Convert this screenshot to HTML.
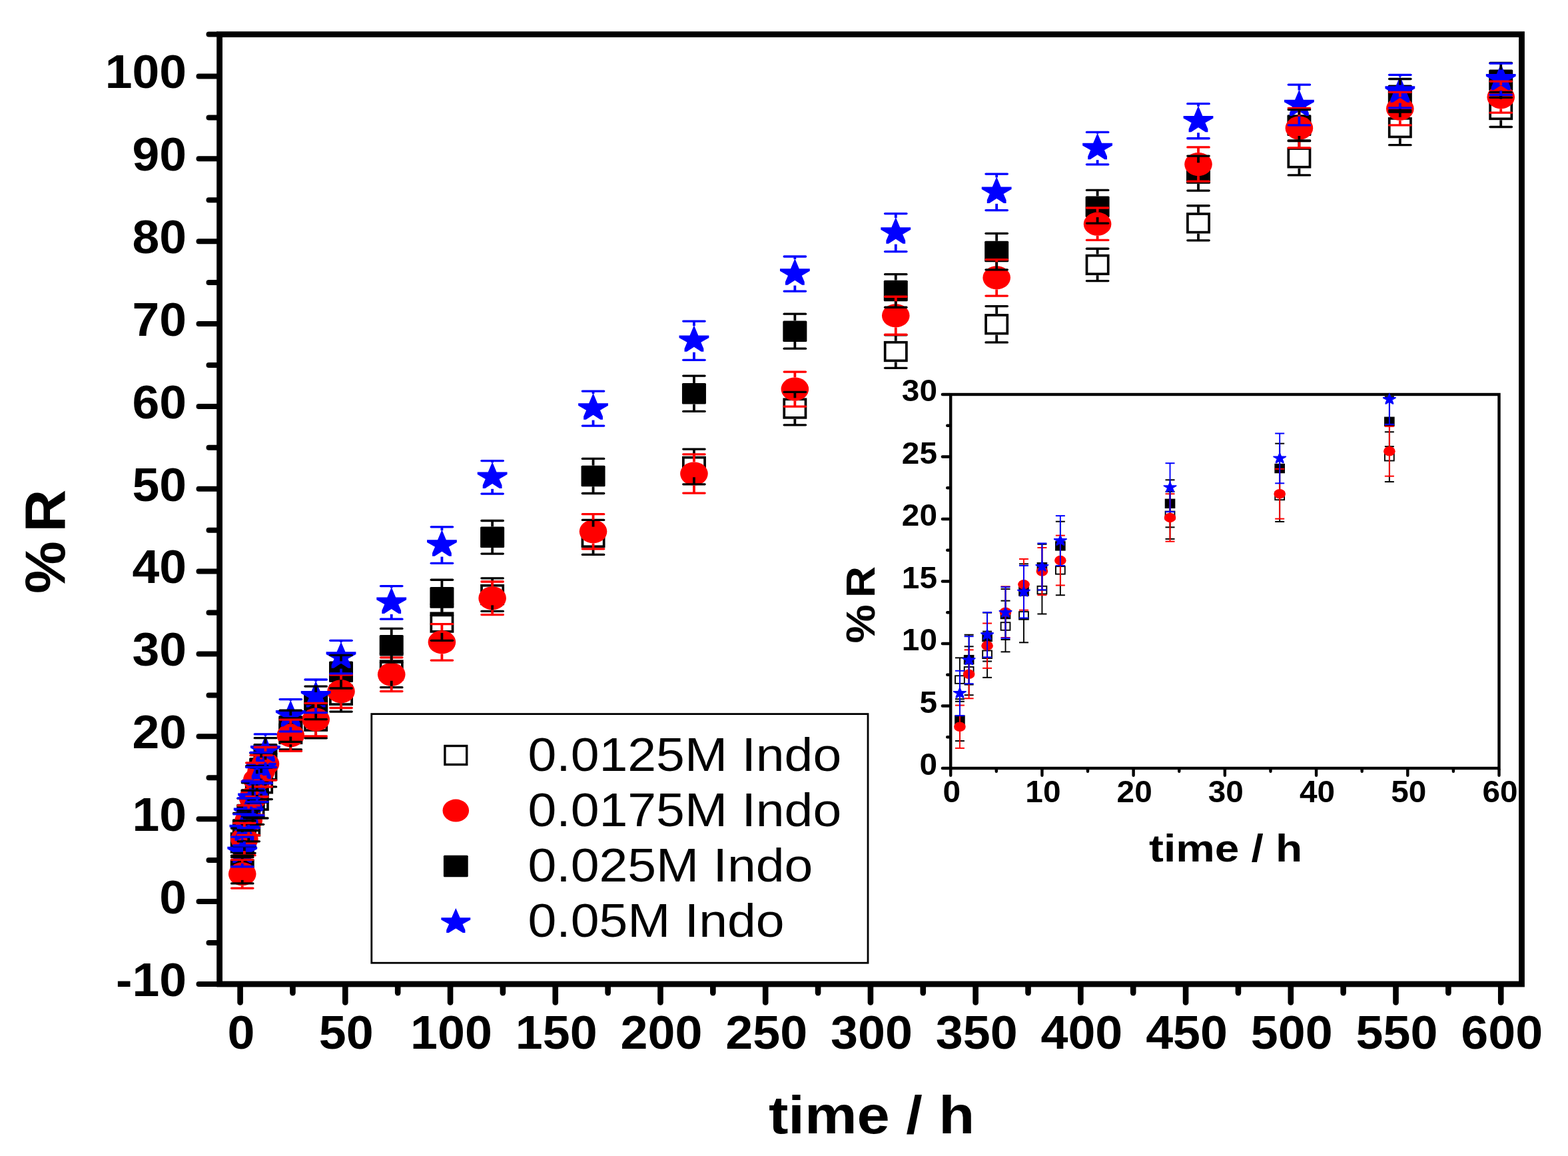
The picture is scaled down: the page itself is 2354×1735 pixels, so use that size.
<!DOCTYPE html><html><head><meta charset="utf-8"><title>%R vs time</title>
<style>html,body{margin:0;padding:0;background:#fff;overflow:hidden}svg{display:block}text{font-family:"Liberation Sans",Arial,sans-serif}</style></head><body>
<svg width="2354" height="1735" viewBox="0 0 2354 1735">
<rect width="2354" height="1735" fill="#fff"/>
<g stroke="#000" stroke-linecap="round" fill="none">
<line x1="298.5" y1="1477" x2="325.6" y2="1477" stroke-width="8"/>
<line x1="313.5" y1="1414.98" x2="325.6" y2="1414.98" stroke-width="8"/>
<line x1="298.5" y1="1353.05" x2="325.6" y2="1353.05" stroke-width="8"/>
<line x1="313.5" y1="1291.12" x2="325.6" y2="1291.12" stroke-width="8"/>
<line x1="298.5" y1="1229.19" x2="325.6" y2="1229.19" stroke-width="8"/>
<line x1="313.5" y1="1167.26" x2="325.6" y2="1167.26" stroke-width="8"/>
<line x1="298.5" y1="1105.33" x2="325.6" y2="1105.33" stroke-width="8"/>
<line x1="313.5" y1="1043.4" x2="325.6" y2="1043.4" stroke-width="8"/>
<line x1="298.5" y1="981.47" x2="325.6" y2="981.47" stroke-width="8"/>
<line x1="313.5" y1="919.54" x2="325.6" y2="919.54" stroke-width="8"/>
<line x1="298.5" y1="857.61" x2="325.6" y2="857.61" stroke-width="8"/>
<line x1="313.5" y1="795.68" x2="325.6" y2="795.68" stroke-width="8"/>
<line x1="298.5" y1="733.75" x2="325.6" y2="733.75" stroke-width="8"/>
<line x1="313.5" y1="671.82" x2="325.6" y2="671.82" stroke-width="8"/>
<line x1="298.5" y1="609.89" x2="325.6" y2="609.89" stroke-width="8"/>
<line x1="313.5" y1="547.96" x2="325.6" y2="547.96" stroke-width="8"/>
<line x1="298.5" y1="486.03" x2="325.6" y2="486.03" stroke-width="8"/>
<line x1="313.5" y1="424.1" x2="325.6" y2="424.1" stroke-width="8"/>
<line x1="298.5" y1="362.17" x2="325.6" y2="362.17" stroke-width="8"/>
<line x1="313.5" y1="300.24" x2="325.6" y2="300.24" stroke-width="8"/>
<line x1="298.5" y1="238.31" x2="325.6" y2="238.31" stroke-width="8"/>
<line x1="313.5" y1="176.38" x2="325.6" y2="176.38" stroke-width="8"/>
<line x1="298.5" y1="114.45" x2="325.6" y2="114.45" stroke-width="8"/>
<line x1="313.5" y1="51.6" x2="325.6" y2="51.6" stroke-width="8"/>
<line x1="360.6" y1="1481.3" x2="360.6" y2="1504.4" stroke-width="8.6"/>
<line x1="439.46" y1="1481.3" x2="439.46" y2="1490.1" stroke-width="8.6"/>
<line x1="518.32" y1="1481.3" x2="518.32" y2="1504.4" stroke-width="8.6"/>
<line x1="597.18" y1="1481.3" x2="597.18" y2="1490.1" stroke-width="8.6"/>
<line x1="676.04" y1="1481.3" x2="676.04" y2="1504.4" stroke-width="8.6"/>
<line x1="754.9" y1="1481.3" x2="754.9" y2="1490.1" stroke-width="8.6"/>
<line x1="833.76" y1="1481.3" x2="833.76" y2="1504.4" stroke-width="8.6"/>
<line x1="912.62" y1="1481.3" x2="912.62" y2="1490.1" stroke-width="8.6"/>
<line x1="991.48" y1="1481.3" x2="991.48" y2="1504.4" stroke-width="8.6"/>
<line x1="1070.34" y1="1481.3" x2="1070.34" y2="1490.1" stroke-width="8.6"/>
<line x1="1149.2" y1="1481.3" x2="1149.2" y2="1504.4" stroke-width="8.6"/>
<line x1="1228.06" y1="1481.3" x2="1228.06" y2="1490.1" stroke-width="8.6"/>
<line x1="1306.92" y1="1481.3" x2="1306.92" y2="1504.4" stroke-width="8.6"/>
<line x1="1385.78" y1="1481.3" x2="1385.78" y2="1490.1" stroke-width="8.6"/>
<line x1="1464.64" y1="1481.3" x2="1464.64" y2="1504.4" stroke-width="8.6"/>
<line x1="1543.5" y1="1481.3" x2="1543.5" y2="1490.1" stroke-width="8.6"/>
<line x1="1622.36" y1="1481.3" x2="1622.36" y2="1504.4" stroke-width="8.6"/>
<line x1="1701.22" y1="1481.3" x2="1701.22" y2="1490.1" stroke-width="8.6"/>
<line x1="1780.08" y1="1481.3" x2="1780.08" y2="1504.4" stroke-width="8.6"/>
<line x1="1858.94" y1="1481.3" x2="1858.94" y2="1490.1" stroke-width="8.6"/>
<line x1="1937.8" y1="1481.3" x2="1937.8" y2="1504.4" stroke-width="8.6"/>
<line x1="2016.66" y1="1481.3" x2="2016.66" y2="1490.1" stroke-width="8.6"/>
<line x1="2095.52" y1="1481.3" x2="2095.52" y2="1504.4" stroke-width="8.6"/>
<line x1="2174.38" y1="1481.3" x2="2174.38" y2="1490.1" stroke-width="8.6"/>
<line x1="2253.24" y1="1481.3" x2="2253.24" y2="1504.4" stroke-width="8.6"/>
</g>
<rect x="329.6" y="51.6" width="1954.9" height="1425.4" fill="none" stroke="#000" stroke-width="8.8"/>
<g font-weight="bold" font-size="71.2" text-anchor="end" fill="#000">
<text transform="translate(280.1,1495.08) scale(1.03,1)">-10</text>
<text transform="translate(280.1,1371.15) scale(1.03,1)">0</text>
<text transform="translate(280.1,1247.22) scale(1.03,1)">10</text>
<text transform="translate(280.1,1123.29) scale(1.03,1)">20</text>
<text transform="translate(280.1,999.36) scale(1.03,1)">30</text>
<text transform="translate(280.1,875.43) scale(1.03,1)">40</text>
<text transform="translate(280.1,751.5) scale(1.03,1)">50</text>
<text transform="translate(280.1,627.57) scale(1.03,1)">60</text>
<text transform="translate(280.1,503.64) scale(1.03,1)">70</text>
<text transform="translate(280.1,379.71) scale(1.03,1)">80</text>
<text transform="translate(280.1,255.78) scale(1.03,1)">90</text>
<text transform="translate(280.1,131.85) scale(1.03,1)">100</text>
</g>
<g font-weight="bold" font-size="71.2" text-anchor="middle" fill="#000">
<text transform="translate(362.1,1573.5) scale(1.035,1)">0</text>
<text transform="translate(519.82,1573.5) scale(1.035,1)">50</text>
<text transform="translate(677.54,1573.5) scale(1.035,1)">100</text>
<text transform="translate(835.26,1573.5) scale(1.035,1)">150</text>
<text transform="translate(992.98,1573.5) scale(1.035,1)">200</text>
<text transform="translate(1150.7,1573.5) scale(1.035,1)">250</text>
<text transform="translate(1308.42,1573.5) scale(1.035,1)">300</text>
<text transform="translate(1466.14,1573.5) scale(1.035,1)">350</text>
<text transform="translate(1623.86,1573.5) scale(1.035,1)">400</text>
<text transform="translate(1781.58,1573.5) scale(1.035,1)">450</text>
<text transform="translate(1939.3,1573.5) scale(1.035,1)">500</text>
<text transform="translate(2097.02,1573.5) scale(1.035,1)">550</text>
<text transform="translate(2254.74,1573.5) scale(1.035,1)">600</text>
</g>
<text transform="translate(1153.9,1700.9) scale(1.101,1)" font-weight="bold" font-size="80.3">time / h</text>
<text transform="translate(97.1,891.1) rotate(-90) scale(1.05,1)" font-weight="bold" font-size="84.5">%<tspan dx="12.85">R</tspan></text>
<rect x="347.65" y="1251.12" width="32.2" height="27.6" fill="none" stroke="#000" stroke-width="3.7"/>
<rect x="350.81" y="1242.32" width="32.2" height="27.6" fill="none" stroke="#000" stroke-width="3.7"/>
<rect x="357.12" y="1226.08" width="32.2" height="27.6" fill="none" stroke="#000" stroke-width="3.7"/>
<rect x="363.43" y="1198.07" width="32.2" height="27.6" fill="none" stroke="#000" stroke-width="3.7"/>
<rect x="369.74" y="1187.41" width="32.2" height="27.6" fill="none" stroke="#000" stroke-width="3.7"/>
<rect x="376.04" y="1162" width="32.2" height="27.6" fill="none" stroke="#000" stroke-width="3.7"/>
<rect x="382.35" y="1142.29" width="32.2" height="27.6" fill="none" stroke="#000" stroke-width="3.7"/>
<rect x="420.21" y="1087.63" width="32.2" height="27.6" fill="none" stroke="#000" stroke-width="3.7"/>
<rect x="458.06" y="1068.42" width="32.2" height="27.6" fill="none" stroke="#000" stroke-width="3.7"/>
<rect x="495.91" y="1029.5" width="32.2" height="27.6" fill="none" stroke="#000" stroke-width="3.7"/>
<rect x="571.62" y="992.19" width="32.2" height="27.6" fill="none" stroke="#000" stroke-width="3.7"/>
<rect x="647.32" y="920.3" width="32.2" height="27.6" fill="none" stroke="#000" stroke-width="3.7"/>
<rect x="723.03" y="878.78" width="32.2" height="27.6" fill="none" stroke="#000" stroke-width="3.7"/>
<rect x="874.44" y="792.63" width="32.2" height="27.6" fill="none" stroke="#000" stroke-width="3.7"/>
<rect x="1025.85" y="686.65" width="32.2" height="27.6" fill="none" stroke="#000" stroke-width="3.7"/>
<rect x="1177.26" y="599.27" width="32.2" height="27.6" fill="none" stroke="#000" stroke-width="3.7"/>
<rect x="1328.67" y="513.74" width="32.2" height="27.6" fill="none" stroke="#000" stroke-width="3.7"/>
<rect x="1480.08" y="472.96" width="32.2" height="27.6" fill="none" stroke="#000" stroke-width="3.7"/>
<rect x="1631.5" y="383.6" width="32.2" height="27.6" fill="none" stroke="#000" stroke-width="3.7"/>
<rect x="1782.91" y="321" width="32.2" height="27.6" fill="none" stroke="#000" stroke-width="3.7"/>
<rect x="1934.32" y="223.08" width="32.2" height="27.6" fill="none" stroke="#000" stroke-width="3.7"/>
<rect x="2085.73" y="177.84" width="32.2" height="27.6" fill="none" stroke="#000" stroke-width="3.7"/>
<rect x="2237.14" y="150.69" width="32.2" height="27.6" fill="none" stroke="#000" stroke-width="3.7"/>
<rect x="345.75" y="1289.28" width="36" height="31.6" rx="1.5" fill="#000"/>
<rect x="348.91" y="1229.29" width="36" height="31.6" rx="1.5" fill="#000"/>
<rect x="355.22" y="1206.73" width="36" height="31.6" rx="1.5" fill="#000"/>
<rect x="361.53" y="1184.17" width="36" height="31.6" rx="1.5" fill="#000"/>
<rect x="367.84" y="1161.24" width="36" height="31.6" rx="1.5" fill="#000"/>
<rect x="374.14" y="1137.19" width="36" height="31.6" rx="1.5" fill="#000"/>
<rect x="380.45" y="1116.12" width="36" height="31.6" rx="1.5" fill="#000"/>
<rect x="418.31" y="1073.98" width="36" height="31.6" rx="1.5" fill="#000"/>
<rect x="456.16" y="1039.03" width="36" height="31.6" rx="1.5" fill="#000"/>
<rect x="494.01" y="992.42" width="36" height="31.6" rx="1.5" fill="#000"/>
<rect x="569.72" y="953" width="36" height="31.6" rx="1.5" fill="#000"/>
<rect x="645.42" y="881.11" width="36" height="31.6" rx="1.5" fill="#000"/>
<rect x="721.13" y="790.51" width="36" height="31.6" rx="1.5" fill="#000"/>
<rect x="872.54" y="698.66" width="36" height="31.6" rx="1.5" fill="#000"/>
<rect x="1023.95" y="574.96" width="36" height="31.6" rx="1.5" fill="#000"/>
<rect x="1175.36" y="481.38" width="36" height="31.6" rx="1.5" fill="#000"/>
<rect x="1326.77" y="420.64" width="36" height="31.6" rx="1.5" fill="#000"/>
<rect x="1478.18" y="361.76" width="36" height="31.6" rx="1.5" fill="#000"/>
<rect x="1629.6" y="294.46" width="36" height="31.6" rx="1.5" fill="#000"/>
<rect x="1781.01" y="244.26" width="36" height="31.6" rx="1.5" fill="#000"/>
<rect x="1932.42" y="172.37" width="36" height="31.6" rx="1.5" fill="#000"/>
<rect x="2083.83" y="127.5" width="36" height="31.6" rx="1.5" fill="#000"/>
<rect x="2235.24" y="104.57" width="36" height="31.6" rx="1.5" fill="#000"/>
<ellipse cx="363.75" cy="1311.77" rx="20.8" ry="17.6" fill="#f00"/>
<ellipse cx="366.91" cy="1259.47" rx="20.8" ry="17.6" fill="#f00"/>
<ellipse cx="373.22" cy="1231.21" rx="20.8" ry="17.6" fill="#f00"/>
<ellipse cx="379.53" cy="1197.74" rx="20.8" ry="17.6" fill="#f00"/>
<ellipse cx="385.84" cy="1170.35" rx="20.8" ry="17.6" fill="#f00"/>
<ellipse cx="392.14" cy="1157.21" rx="20.8" ry="17.6" fill="#f00"/>
<ellipse cx="398.45" cy="1146.3" rx="20.8" ry="17.6" fill="#f00"/>
<ellipse cx="436.31" cy="1103.79" rx="20.8" ry="17.6" fill="#f00"/>
<ellipse cx="474.16" cy="1080.11" rx="20.8" ry="17.6" fill="#f00"/>
<ellipse cx="512.01" cy="1037.72" rx="20.8" ry="17.6" fill="#f00"/>
<ellipse cx="587.72" cy="1012.19" rx="20.8" ry="17.6" fill="#f00"/>
<ellipse cx="663.42" cy="963.85" rx="20.8" ry="17.6" fill="#f00"/>
<ellipse cx="739.13" cy="897.78" rx="20.8" ry="17.6" fill="#f00"/>
<ellipse cx="890.54" cy="797.75" rx="20.8" ry="17.6" fill="#f00"/>
<ellipse cx="1041.95" cy="710.99" rx="20.8" ry="17.6" fill="#f00"/>
<ellipse cx="1193.36" cy="584.06" rx="20.8" ry="17.6" fill="#f00"/>
<ellipse cx="1344.77" cy="473.75" rx="20.8" ry="17.6" fill="#f00"/>
<ellipse cx="1496.18" cy="416.86" rx="20.8" ry="17.6" fill="#f00"/>
<ellipse cx="1647.6" cy="336.16" rx="20.8" ry="17.6" fill="#f00"/>
<ellipse cx="1799.01" cy="246.55" rx="20.8" ry="17.6" fill="#f00"/>
<ellipse cx="1950.42" cy="192.13" rx="20.8" ry="17.6" fill="#f00"/>
<ellipse cx="2101.83" cy="163.13" rx="20.8" ry="17.6" fill="#f00"/>
<ellipse cx="2253.24" cy="145.65" rx="20.8" ry="17.6" fill="#f00"/>
<polygon points="363.75,1255.43 370.15,1270.63 386.15,1270.63 386.15,1274.23 374.15,1281.03 378.15,1290.43 378.15,1295.03 374.55,1295.03 363.75,1288.03 352.95,1295.03 349.35,1295.03 349.35,1290.43 353.35,1281.03 341.35,1274.23 341.35,1270.63 357.35,1270.63" fill="#0000ff"/>
<polygon points="366.91,1222.46 373.31,1237.66 389.31,1237.66 389.31,1241.26 377.31,1248.06 381.31,1257.46 381.31,1262.06 377.71,1262.06 366.91,1255.06 356.11,1262.06 352.51,1262.06 352.51,1257.46 356.51,1248.06 344.51,1241.26 344.51,1237.66 360.51,1237.66" fill="#0000ff"/>
<polygon points="373.22,1197.3 379.62,1212.5 395.62,1212.5 395.62,1216.1 383.62,1222.9 387.62,1232.3 387.62,1236.9 384.02,1236.9 373.22,1229.9 362.42,1236.9 358.82,1236.9 358.82,1232.3 362.82,1222.9 350.82,1216.1 350.82,1212.5 366.82,1212.5" fill="#0000ff"/>
<polygon points="379.53,1175.24 385.93,1190.44 401.93,1190.44 401.93,1194.04 389.93,1200.84 393.93,1210.24 393.93,1214.84 390.33,1214.84 379.53,1207.84 368.73,1214.84 365.13,1214.84 365.13,1210.24 369.13,1200.84 357.13,1194.04 357.13,1190.44 373.13,1190.44" fill="#0000ff"/>
<polygon points="385.84,1154.54 392.24,1169.74 408.24,1169.74 408.24,1173.34 396.24,1180.14 400.24,1189.54 400.24,1194.14 396.64,1194.14 385.84,1187.14 375.04,1194.14 371.44,1194.14 371.44,1189.54 375.44,1180.14 363.44,1173.34 363.44,1169.74 379.44,1169.74" fill="#0000ff"/>
<polygon points="392.14,1129.5 398.54,1144.7 414.54,1144.7 414.54,1148.3 402.54,1155.1 406.54,1164.5 406.54,1169.1 402.94,1169.1 392.14,1162.1 381.34,1169.1 377.74,1169.1 377.74,1164.5 381.74,1155.1 369.74,1148.3 369.74,1144.7 385.74,1144.7" fill="#0000ff"/>
<polygon points="398.45,1103.72 404.85,1118.92 420.85,1118.92 420.85,1122.52 408.85,1129.32 412.85,1138.72 412.85,1143.32 409.25,1143.32 398.45,1136.32 387.65,1143.32 384.05,1143.32 384.05,1138.72 388.05,1129.32 376.05,1122.52 376.05,1118.92 392.05,1118.92" fill="#0000ff"/>
<polygon points="436.31,1050.79 442.71,1065.99 458.71,1065.99 458.71,1069.59 446.71,1076.39 450.71,1085.79 450.71,1090.39 447.11,1090.39 436.31,1083.39 425.51,1090.39 421.91,1090.39 421.91,1085.79 425.91,1076.39 413.91,1069.59 413.91,1065.99 429.91,1065.99" fill="#0000ff"/>
<polygon points="474.16,1021.79 480.56,1036.99 496.56,1036.99 496.56,1040.59 484.56,1047.39 488.56,1056.79 488.56,1061.39 484.96,1061.39 474.16,1054.39 463.36,1061.39 459.76,1061.39 459.76,1056.79 463.76,1047.39 451.76,1040.59 451.76,1036.99 467.76,1036.99" fill="#0000ff"/>
<polygon points="512.01,963.16 518.41,978.36 534.41,978.36 534.41,981.96 522.41,988.76 526.41,998.16 526.41,1002.76 522.81,1002.76 512.01,995.76 501.21,1002.76 497.61,1002.76 497.61,998.16 501.61,988.76 489.61,981.96 489.61,978.36 505.61,978.36" fill="#0000ff"/>
<polygon points="587.72,881.35 594.12,896.55 610.12,896.55 610.12,900.15 598.12,906.95 602.12,916.35 602.12,920.95 598.52,920.95 587.72,913.95 576.92,920.95 573.32,920.95 573.32,916.35 577.32,906.95 565.32,900.15 565.32,896.55 581.32,896.55" fill="#0000ff"/>
<polygon points="663.42,795.08 669.82,810.28 685.82,810.28 685.82,813.88 673.82,820.68 677.82,830.08 677.82,834.68 674.22,834.68 663.42,827.68 652.62,834.68 649.02,834.68 649.02,830.08 653.02,820.68 641.02,813.88 641.02,810.28 657.02,810.28" fill="#0000ff"/>
<polygon points="739.13,693.32 745.53,708.52 761.53,708.52 761.53,712.12 749.53,718.92 753.53,728.32 753.53,732.92 749.93,732.92 739.13,725.92 728.33,732.92 724.73,732.92 724.73,728.32 728.73,718.92 716.73,712.12 716.73,708.52 732.73,708.52" fill="#0000ff"/>
<polygon points="890.54,590.07 896.94,605.27 912.94,605.27 912.94,608.87 900.94,615.67 904.94,625.07 904.94,629.67 901.34,629.67 890.54,622.67 879.74,629.67 876.14,629.67 876.14,625.07 880.14,615.67 868.14,608.87 868.14,605.27 884.14,605.27" fill="#0000ff"/>
<polygon points="1041.95,488.18 1048.35,503.38 1064.35,503.38 1064.35,506.98 1052.35,513.78 1056.35,523.18 1056.35,527.78 1052.75,527.78 1041.95,520.78 1031.15,527.78 1027.55,527.78 1027.55,523.18 1031.55,513.78 1019.55,506.98 1019.55,503.38 1035.55,503.38" fill="#0000ff"/>
<polygon points="1193.36,388.03 1199.76,403.23 1215.76,403.23 1215.76,406.83 1203.76,413.63 1207.76,423.03 1207.76,427.63 1204.16,427.63 1193.36,420.63 1182.56,427.63 1178.96,427.63 1178.96,423.03 1182.96,413.63 1170.96,406.83 1170.96,403.23 1186.96,403.23" fill="#0000ff"/>
<polygon points="1344.77,326.05 1351.17,341.25 1367.17,341.25 1367.17,344.85 1355.17,351.65 1359.17,361.05 1359.17,365.65 1355.57,365.65 1344.77,358.65 1333.97,365.65 1330.37,365.65 1330.37,361.05 1334.37,351.65 1322.37,344.85 1322.37,341.25 1338.37,341.25" fill="#0000ff"/>
<polygon points="1496.18,265.32 1502.58,280.52 1518.58,280.52 1518.58,284.12 1506.58,290.92 1510.58,300.32 1510.58,304.92 1506.98,304.92 1496.18,297.92 1485.38,304.92 1481.78,304.92 1481.78,300.32 1485.78,290.92 1473.78,284.12 1473.78,280.52 1489.78,280.52" fill="#0000ff"/>
<polygon points="1647.6,199.63 1654,214.83 1670,214.83 1670,218.43 1658,225.23 1662,234.63 1662,239.23 1658.4,239.23 1647.6,232.23 1636.8,239.23 1633.2,239.23 1633.2,234.63 1637.2,225.23 1625.2,218.43 1625.2,214.83 1641.2,214.83" fill="#0000ff"/>
<polygon points="1799.01,158.72 1805.41,173.92 1821.41,173.92 1821.41,177.52 1809.41,184.32 1813.41,193.72 1813.41,198.32 1809.81,198.32 1799.01,191.32 1788.21,198.32 1784.61,198.32 1784.61,193.72 1788.61,184.32 1776.61,177.52 1776.61,173.92 1792.61,173.92" fill="#0000ff"/>
<polygon points="1950.42,134.43 1956.82,149.63 1972.82,149.63 1972.82,153.23 1960.82,160.03 1964.82,169.43 1964.82,174.03 1961.22,174.03 1950.42,167.03 1939.62,174.03 1936.02,174.03 1936.02,169.43 1940.02,160.03 1928.02,153.23 1928.02,149.63 1944.02,149.63" fill="#0000ff"/>
<polygon points="2101.83,114.1 2108.23,129.3 2124.23,129.3 2124.23,132.9 2112.23,139.7 2116.23,149.1 2116.23,153.7 2112.63,153.7 2101.83,146.7 2091.03,153.7 2087.43,153.7 2087.43,149.1 2091.43,139.7 2079.43,132.9 2079.43,129.3 2095.43,129.3" fill="#0000ff"/>
<polygon points="2253.24,95.76 2259.64,110.96 2275.64,110.96 2275.64,114.56 2263.64,121.36 2267.64,130.76 2267.64,135.36 2264.04,135.36 2253.24,128.36 2242.44,135.36 2238.84,135.36 2238.84,130.76 2242.84,121.36 2230.84,114.56 2230.84,110.96 2246.84,110.96" fill="#0000ff"/>
<g stroke="#000" stroke-linecap="round">
<line x1="363.75" y1="1249.12" x2="363.75" y2="1243.23" stroke-width="3.8" stroke-linecap="butt"/>
<line x1="363.75" y1="1280.72" x2="363.75" y2="1286.61" stroke-width="3.8" stroke-linecap="butt"/>
<line x1="347.55" y1="1243.23" x2="379.95" y2="1243.23" stroke-width="3.3"/>
<line x1="347.55" y1="1286.61" x2="379.95" y2="1286.61" stroke-width="3.3"/>
<line x1="366.91" y1="1240.32" x2="366.91" y2="1231.95" stroke-width="3.8" stroke-linecap="butt"/>
<line x1="366.91" y1="1271.92" x2="366.91" y2="1280.29" stroke-width="3.8" stroke-linecap="butt"/>
<line x1="350.71" y1="1231.95" x2="383.11" y2="1231.95" stroke-width="3.3"/>
<line x1="350.71" y1="1280.29" x2="383.11" y2="1280.29" stroke-width="3.3"/>
<line x1="373.22" y1="1224.08" x2="373.22" y2="1216.95" stroke-width="3.8" stroke-linecap="butt"/>
<line x1="373.22" y1="1255.68" x2="373.22" y2="1262.81" stroke-width="3.8" stroke-linecap="butt"/>
<line x1="357.02" y1="1216.95" x2="389.42" y2="1216.95" stroke-width="3.3"/>
<line x1="357.02" y1="1262.81" x2="389.42" y2="1262.81" stroke-width="3.3"/>
<line x1="379.53" y1="1196.07" x2="379.53" y2="1186.46" stroke-width="3.8" stroke-linecap="butt"/>
<line x1="379.53" y1="1227.67" x2="379.53" y2="1237.28" stroke-width="3.8" stroke-linecap="butt"/>
<line x1="363.33" y1="1186.46" x2="395.73" y2="1186.46" stroke-width="3.3"/>
<line x1="363.33" y1="1237.28" x2="395.73" y2="1237.28" stroke-width="3.3"/>
<line x1="385.84" y1="1185.41" x2="385.84" y2="1174.44" stroke-width="3.8" stroke-linecap="butt"/>
<line x1="385.84" y1="1217.01" x2="385.84" y2="1227.98" stroke-width="3.8" stroke-linecap="butt"/>
<line x1="369.64" y1="1174.44" x2="402.04" y2="1174.44" stroke-width="3.3"/>
<line x1="369.64" y1="1227.98" x2="402.04" y2="1227.98" stroke-width="3.3"/>
<line x1="392.14" y1="1160" x2="392.14" y2="1152" stroke-width="3.8" stroke-linecap="butt"/>
<line x1="392.14" y1="1191.6" x2="392.14" y2="1199.6" stroke-width="3.8" stroke-linecap="butt"/>
<line x1="375.94" y1="1152" x2="408.34" y2="1152" stroke-width="3.3"/>
<line x1="375.94" y1="1199.6" x2="408.34" y2="1199.6" stroke-width="3.3"/>
<line x1="398.45" y1="1140.29" x2="398.45" y2="1131.3" stroke-width="3.8" stroke-linecap="butt"/>
<line x1="398.45" y1="1171.89" x2="398.45" y2="1180.88" stroke-width="3.8" stroke-linecap="butt"/>
<line x1="382.25" y1="1131.3" x2="414.65" y2="1131.3" stroke-width="3.3"/>
<line x1="382.25" y1="1180.88" x2="414.65" y2="1180.88" stroke-width="3.3"/>
<line x1="436.31" y1="1085.63" x2="436.31" y2="1077.88" stroke-width="3.8" stroke-linecap="butt"/>
<line x1="436.31" y1="1117.23" x2="436.31" y2="1124.98" stroke-width="3.8" stroke-linecap="butt"/>
<line x1="420.11" y1="1077.88" x2="452.51" y2="1077.88" stroke-width="3.3"/>
<line x1="420.11" y1="1124.98" x2="452.51" y2="1124.98" stroke-width="3.3"/>
<line x1="474.16" y1="1066.42" x2="474.16" y2="1056.69" stroke-width="3.8" stroke-linecap="butt"/>
<line x1="474.16" y1="1098.02" x2="474.16" y2="1107.75" stroke-width="3.8" stroke-linecap="butt"/>
<line x1="457.96" y1="1056.69" x2="490.36" y2="1056.69" stroke-width="3.3"/>
<line x1="457.96" y1="1107.75" x2="490.36" y2="1107.75" stroke-width="3.3"/>
<line x1="512.01" y1="1027.5" x2="512.01" y2="1018.51" stroke-width="3.8" stroke-linecap="butt"/>
<line x1="512.01" y1="1059.1" x2="512.01" y2="1068.09" stroke-width="3.8" stroke-linecap="butt"/>
<line x1="495.81" y1="1018.51" x2="528.21" y2="1018.51" stroke-width="3.3"/>
<line x1="495.81" y1="1068.09" x2="528.21" y2="1068.09" stroke-width="3.3"/>
<line x1="587.72" y1="990.19" x2="587.72" y2="980.33" stroke-width="3.8" stroke-linecap="butt"/>
<line x1="587.72" y1="1021.79" x2="587.72" y2="1031.65" stroke-width="3.8" stroke-linecap="butt"/>
<line x1="571.52" y1="980.33" x2="603.92" y2="980.33" stroke-width="3.3"/>
<line x1="571.52" y1="1031.65" x2="603.92" y2="1031.65" stroke-width="3.3"/>
<line x1="663.42" y1="918.3" x2="663.42" y2="906.83" stroke-width="3.8" stroke-linecap="butt"/>
<line x1="663.42" y1="949.9" x2="663.42" y2="961.37" stroke-width="3.8" stroke-linecap="butt"/>
<line x1="647.22" y1="906.83" x2="679.62" y2="906.83" stroke-width="3.3"/>
<line x1="647.22" y1="961.37" x2="679.62" y2="961.37" stroke-width="3.3"/>
<line x1="739.13" y1="876.78" x2="739.13" y2="867.79" stroke-width="3.8" stroke-linecap="butt"/>
<line x1="739.13" y1="908.38" x2="739.13" y2="917.37" stroke-width="3.8" stroke-linecap="butt"/>
<line x1="722.93" y1="867.79" x2="755.33" y2="867.79" stroke-width="3.3"/>
<line x1="722.93" y1="917.37" x2="755.33" y2="917.37" stroke-width="3.3"/>
<line x1="890.54" y1="790.63" x2="890.54" y2="780.4" stroke-width="3.8" stroke-linecap="butt"/>
<line x1="890.54" y1="822.23" x2="890.54" y2="832.46" stroke-width="3.8" stroke-linecap="butt"/>
<line x1="874.34" y1="780.4" x2="906.74" y2="780.4" stroke-width="3.3"/>
<line x1="874.34" y1="832.46" x2="906.74" y2="832.46" stroke-width="3.3"/>
<line x1="1041.95" y1="684.65" x2="1041.95" y2="674.05" stroke-width="3.8" stroke-linecap="butt"/>
<line x1="1041.95" y1="716.25" x2="1041.95" y2="726.85" stroke-width="3.8" stroke-linecap="butt"/>
<line x1="1025.75" y1="674.05" x2="1058.15" y2="674.05" stroke-width="3.3"/>
<line x1="1025.75" y1="726.85" x2="1058.15" y2="726.85" stroke-width="3.3"/>
<line x1="1193.36" y1="597.27" x2="1193.36" y2="588.28" stroke-width="3.8" stroke-linecap="butt"/>
<line x1="1193.36" y1="628.87" x2="1193.36" y2="637.86" stroke-width="3.8" stroke-linecap="butt"/>
<line x1="1177.16" y1="588.28" x2="1209.56" y2="588.28" stroke-width="3.3"/>
<line x1="1177.16" y1="637.86" x2="1209.56" y2="637.86" stroke-width="3.3"/>
<line x1="1344.77" y1="511.74" x2="1344.77" y2="502.75" stroke-width="3.8" stroke-linecap="butt"/>
<line x1="1344.77" y1="543.34" x2="1344.77" y2="552.33" stroke-width="3.8" stroke-linecap="butt"/>
<line x1="1328.57" y1="502.75" x2="1360.97" y2="502.75" stroke-width="3.3"/>
<line x1="1328.57" y1="552.33" x2="1360.97" y2="552.33" stroke-width="3.3"/>
<line x1="1496.18" y1="470.96" x2="1496.18" y2="459.62" stroke-width="3.8" stroke-linecap="butt"/>
<line x1="1496.18" y1="502.56" x2="1496.18" y2="513.91" stroke-width="3.8" stroke-linecap="butt"/>
<line x1="1479.98" y1="459.62" x2="1512.38" y2="459.62" stroke-width="3.3"/>
<line x1="1479.98" y1="513.91" x2="1512.38" y2="513.91" stroke-width="3.3"/>
<line x1="1647.6" y1="381.6" x2="1647.6" y2="373.23" stroke-width="3.8" stroke-linecap="butt"/>
<line x1="1647.6" y1="413.2" x2="1647.6" y2="421.57" stroke-width="3.8" stroke-linecap="butt"/>
<line x1="1631.4" y1="373.23" x2="1663.8" y2="373.23" stroke-width="3.3"/>
<line x1="1631.4" y1="421.57" x2="1663.8" y2="421.57" stroke-width="3.3"/>
<line x1="1799.01" y1="319" x2="1799.01" y2="308.77" stroke-width="3.8" stroke-linecap="butt"/>
<line x1="1799.01" y1="350.6" x2="1799.01" y2="360.83" stroke-width="3.8" stroke-linecap="butt"/>
<line x1="1782.81" y1="308.77" x2="1815.21" y2="308.77" stroke-width="3.3"/>
<line x1="1782.81" y1="360.83" x2="1815.21" y2="360.83" stroke-width="3.3"/>
<line x1="1950.42" y1="221.08" x2="1950.42" y2="210.85" stroke-width="3.8" stroke-linecap="butt"/>
<line x1="1950.42" y1="252.68" x2="1950.42" y2="262.91" stroke-width="3.8" stroke-linecap="butt"/>
<line x1="1934.22" y1="210.85" x2="1966.62" y2="210.85" stroke-width="3.3"/>
<line x1="1934.22" y1="262.91" x2="1966.62" y2="262.91" stroke-width="3.3"/>
<line x1="2101.83" y1="175.84" x2="2101.83" y2="165.61" stroke-width="3.8" stroke-linecap="butt"/>
<line x1="2101.83" y1="207.44" x2="2101.83" y2="217.67" stroke-width="3.8" stroke-linecap="butt"/>
<line x1="2085.63" y1="165.61" x2="2118.03" y2="165.61" stroke-width="3.3"/>
<line x1="2085.63" y1="217.67" x2="2118.03" y2="217.67" stroke-width="3.3"/>
<line x1="2253.24" y1="148.69" x2="2253.24" y2="138.46" stroke-width="3.8" stroke-linecap="butt"/>
<line x1="2253.24" y1="180.29" x2="2253.24" y2="190.52" stroke-width="3.8" stroke-linecap="butt"/>
<line x1="2237.04" y1="138.46" x2="2269.44" y2="138.46" stroke-width="3.3"/>
<line x1="2237.04" y1="190.52" x2="2269.44" y2="190.52" stroke-width="3.3"/>
</g>
<g stroke="#f00" stroke-linecap="round">
<line x1="363.75" y1="1294.17" x2="363.75" y2="1290.46" stroke-width="3.8" stroke-linecap="butt"/>
<line x1="363.75" y1="1329.37" x2="363.75" y2="1333.09" stroke-width="3.8" stroke-linecap="butt"/>
<line x1="347.55" y1="1290.46" x2="379.95" y2="1290.46" stroke-width="3.3"/>
<line x1="347.55" y1="1333.09" x2="379.95" y2="1333.09" stroke-width="3.3"/>
<line x1="366.91" y1="1241.87" x2="366.91" y2="1235.3" stroke-width="3.8" stroke-linecap="butt"/>
<line x1="366.91" y1="1277.07" x2="366.91" y2="1283.64" stroke-width="3.8" stroke-linecap="butt"/>
<line x1="350.71" y1="1235.3" x2="383.11" y2="1235.3" stroke-width="3.3"/>
<line x1="350.71" y1="1283.64" x2="383.11" y2="1283.64" stroke-width="3.3"/>
<line x1="373.22" y1="1213.61" x2="373.22" y2="1208.9" stroke-width="3.8" stroke-linecap="butt"/>
<line x1="373.22" y1="1248.81" x2="373.22" y2="1253.52" stroke-width="3.8" stroke-linecap="butt"/>
<line x1="357.02" y1="1208.9" x2="389.42" y2="1208.9" stroke-width="3.3"/>
<line x1="357.02" y1="1253.52" x2="389.42" y2="1253.52" stroke-width="3.3"/>
<line x1="379.53" y1="1180.14" x2="379.53" y2="1172.33" stroke-width="3.8" stroke-linecap="butt"/>
<line x1="379.53" y1="1215.34" x2="379.53" y2="1223.15" stroke-width="3.8" stroke-linecap="butt"/>
<line x1="363.33" y1="1172.33" x2="395.73" y2="1172.33" stroke-width="3.3"/>
<line x1="363.33" y1="1223.15" x2="395.73" y2="1223.15" stroke-width="3.3"/>
<line x1="385.84" y1="1152.75" x2="385.84" y2="1144.94" stroke-width="3.8" stroke-linecap="butt"/>
<line x1="385.84" y1="1187.95" x2="385.84" y2="1195.76" stroke-width="3.8" stroke-linecap="butt"/>
<line x1="369.64" y1="1144.94" x2="402.04" y2="1144.94" stroke-width="3.3"/>
<line x1="369.64" y1="1195.76" x2="402.04" y2="1195.76" stroke-width="3.3"/>
<line x1="392.14" y1="1139.61" x2="392.14" y2="1133.66" stroke-width="3.8" stroke-linecap="butt"/>
<line x1="392.14" y1="1174.81" x2="392.14" y2="1180.76" stroke-width="3.8" stroke-linecap="butt"/>
<line x1="375.94" y1="1133.66" x2="408.34" y2="1133.66" stroke-width="3.3"/>
<line x1="375.94" y1="1180.76" x2="408.34" y2="1180.76" stroke-width="3.3"/>
<line x1="398.45" y1="1128.7" x2="398.45" y2="1121.51" stroke-width="3.8" stroke-linecap="butt"/>
<line x1="398.45" y1="1163.9" x2="398.45" y2="1171.09" stroke-width="3.8" stroke-linecap="butt"/>
<line x1="382.25" y1="1121.51" x2="414.65" y2="1121.51" stroke-width="3.3"/>
<line x1="382.25" y1="1171.09" x2="414.65" y2="1171.09" stroke-width="3.3"/>
<line x1="436.31" y1="1086.19" x2="436.31" y2="1080.11" stroke-width="3.8" stroke-linecap="butt"/>
<line x1="436.31" y1="1121.39" x2="436.31" y2="1127.46" stroke-width="3.8" stroke-linecap="butt"/>
<line x1="420.11" y1="1080.11" x2="452.51" y2="1080.11" stroke-width="3.3"/>
<line x1="420.11" y1="1127.46" x2="452.51" y2="1127.46" stroke-width="3.3"/>
<line x1="474.16" y1="1062.51" x2="474.16" y2="1055.32" stroke-width="3.8" stroke-linecap="butt"/>
<line x1="474.16" y1="1097.71" x2="474.16" y2="1104.9" stroke-width="3.8" stroke-linecap="butt"/>
<line x1="457.96" y1="1055.32" x2="490.36" y2="1055.32" stroke-width="3.3"/>
<line x1="457.96" y1="1104.9" x2="490.36" y2="1104.9" stroke-width="3.3"/>
<line x1="512.01" y1="1020.12" x2="512.01" y2="1012.93" stroke-width="3.8" stroke-linecap="butt"/>
<line x1="512.01" y1="1055.32" x2="512.01" y2="1062.51" stroke-width="3.8" stroke-linecap="butt"/>
<line x1="495.81" y1="1012.93" x2="528.21" y2="1012.93" stroke-width="3.3"/>
<line x1="495.81" y1="1062.51" x2="528.21" y2="1062.51" stroke-width="3.3"/>
<line x1="587.72" y1="994.59" x2="587.72" y2="986.78" stroke-width="3.8" stroke-linecap="butt"/>
<line x1="587.72" y1="1029.79" x2="587.72" y2="1037.6" stroke-width="3.8" stroke-linecap="butt"/>
<line x1="571.52" y1="986.78" x2="603.92" y2="986.78" stroke-width="3.3"/>
<line x1="571.52" y1="1037.6" x2="603.92" y2="1037.6" stroke-width="3.3"/>
<line x1="663.42" y1="946.25" x2="663.42" y2="936.58" stroke-width="3.8" stroke-linecap="butt"/>
<line x1="663.42" y1="981.45" x2="663.42" y2="991.12" stroke-width="3.8" stroke-linecap="butt"/>
<line x1="647.22" y1="936.58" x2="679.62" y2="936.58" stroke-width="3.3"/>
<line x1="647.22" y1="991.12" x2="679.62" y2="991.12" stroke-width="3.3"/>
<line x1="739.13" y1="880.18" x2="739.13" y2="872.99" stroke-width="3.8" stroke-linecap="butt"/>
<line x1="739.13" y1="915.38" x2="739.13" y2="922.57" stroke-width="3.8" stroke-linecap="butt"/>
<line x1="722.93" y1="872.99" x2="755.33" y2="872.99" stroke-width="3.3"/>
<line x1="722.93" y1="922.57" x2="755.33" y2="922.57" stroke-width="3.3"/>
<line x1="890.54" y1="780.15" x2="890.54" y2="771.72" stroke-width="3.8" stroke-linecap="butt"/>
<line x1="890.54" y1="815.35" x2="890.54" y2="823.78" stroke-width="3.8" stroke-linecap="butt"/>
<line x1="874.34" y1="771.72" x2="906.74" y2="771.72" stroke-width="3.3"/>
<line x1="874.34" y1="823.78" x2="906.74" y2="823.78" stroke-width="3.3"/>
<line x1="1041.95" y1="693.39" x2="1041.95" y2="681.86" stroke-width="3.8" stroke-linecap="butt"/>
<line x1="1041.95" y1="728.59" x2="1041.95" y2="740.12" stroke-width="3.8" stroke-linecap="butt"/>
<line x1="1025.75" y1="681.86" x2="1058.15" y2="681.86" stroke-width="3.3"/>
<line x1="1025.75" y1="740.12" x2="1058.15" y2="740.12" stroke-width="3.3"/>
<line x1="1193.36" y1="566.46" x2="1193.36" y2="558.03" stroke-width="3.8" stroke-linecap="butt"/>
<line x1="1193.36" y1="601.66" x2="1193.36" y2="610.09" stroke-width="3.8" stroke-linecap="butt"/>
<line x1="1177.16" y1="558.03" x2="1209.56" y2="558.03" stroke-width="3.3"/>
<line x1="1177.16" y1="610.09" x2="1209.56" y2="610.09" stroke-width="3.3"/>
<line x1="1344.77" y1="456.15" x2="1344.77" y2="445.24" stroke-width="3.8" stroke-linecap="butt"/>
<line x1="1344.77" y1="491.35" x2="1344.77" y2="502.26" stroke-width="3.8" stroke-linecap="butt"/>
<line x1="1328.57" y1="445.24" x2="1360.97" y2="445.24" stroke-width="3.3"/>
<line x1="1328.57" y1="502.26" x2="1360.97" y2="502.26" stroke-width="3.3"/>
<line x1="1496.18" y1="399.26" x2="1496.18" y2="389.59" stroke-width="3.8" stroke-linecap="butt"/>
<line x1="1496.18" y1="434.46" x2="1496.18" y2="444.12" stroke-width="3.8" stroke-linecap="butt"/>
<line x1="1479.98" y1="389.59" x2="1512.38" y2="389.59" stroke-width="3.3"/>
<line x1="1479.98" y1="444.12" x2="1512.38" y2="444.12" stroke-width="3.3"/>
<line x1="1647.6" y1="318.56" x2="1647.6" y2="311.99" stroke-width="3.8" stroke-linecap="butt"/>
<line x1="1647.6" y1="353.76" x2="1647.6" y2="360.33" stroke-width="3.8" stroke-linecap="butt"/>
<line x1="1631.4" y1="311.99" x2="1663.8" y2="311.99" stroke-width="3.3"/>
<line x1="1631.4" y1="360.33" x2="1663.8" y2="360.33" stroke-width="3.3"/>
<line x1="1799.01" y1="228.95" x2="1799.01" y2="220.89" stroke-width="3.8" stroke-linecap="butt"/>
<line x1="1799.01" y1="264.15" x2="1799.01" y2="272.21" stroke-width="3.8" stroke-linecap="butt"/>
<line x1="1782.81" y1="220.89" x2="1815.21" y2="220.89" stroke-width="3.3"/>
<line x1="1782.81" y1="272.21" x2="1815.21" y2="272.21" stroke-width="3.3"/>
<line x1="1950.42" y1="174.53" x2="1950.42" y2="162.39" stroke-width="3.8" stroke-linecap="butt"/>
<line x1="1950.42" y1="209.73" x2="1950.42" y2="221.88" stroke-width="3.8" stroke-linecap="butt"/>
<line x1="1934.22" y1="162.39" x2="1966.62" y2="162.39" stroke-width="3.3"/>
<line x1="1934.22" y1="221.88" x2="1966.62" y2="221.88" stroke-width="3.3"/>
<line x1="2101.83" y1="145.53" x2="2101.83" y2="138.34" stroke-width="3.8" stroke-linecap="butt"/>
<line x1="2101.83" y1="180.73" x2="2101.83" y2="187.92" stroke-width="3.8" stroke-linecap="butt"/>
<line x1="2085.63" y1="138.34" x2="2118.03" y2="138.34" stroke-width="3.3"/>
<line x1="2085.63" y1="187.92" x2="2118.03" y2="187.92" stroke-width="3.3"/>
<line x1="2253.24" y1="128.05" x2="2253.24" y2="122.1" stroke-width="3.8" stroke-linecap="butt"/>
<line x1="2253.24" y1="163.25" x2="2253.24" y2="169.2" stroke-width="3.8" stroke-linecap="butt"/>
<line x1="2237.04" y1="122.1" x2="2269.44" y2="122.1" stroke-width="3.3"/>
<line x1="2237.04" y1="169.2" x2="2269.44" y2="169.2" stroke-width="3.3"/>
</g>
<g stroke="#000" stroke-linecap="round">
<line x1="363.75" y1="1289.28" x2="363.75" y2="1284.26" stroke-width="3.8" stroke-linecap="butt"/>
<line x1="363.75" y1="1320.88" x2="363.75" y2="1325.9" stroke-width="3.8" stroke-linecap="butt"/>
<line x1="347.55" y1="1284.26" x2="379.95" y2="1284.26" stroke-width="3.3"/>
<line x1="347.55" y1="1325.9" x2="379.95" y2="1325.9" stroke-width="3.3"/>
<line x1="366.91" y1="1229.29" x2="366.91" y2="1220.3" stroke-width="3.8" stroke-linecap="butt"/>
<line x1="366.91" y1="1260.89" x2="366.91" y2="1269.88" stroke-width="3.8" stroke-linecap="butt"/>
<line x1="350.71" y1="1220.3" x2="383.11" y2="1220.3" stroke-width="3.3"/>
<line x1="350.71" y1="1269.88" x2="383.11" y2="1269.88" stroke-width="3.3"/>
<line x1="373.22" y1="1206.73" x2="373.22" y2="1198.36" stroke-width="3.8" stroke-linecap="butt"/>
<line x1="373.22" y1="1238.33" x2="373.22" y2="1246.7" stroke-width="3.8" stroke-linecap="butt"/>
<line x1="357.02" y1="1198.36" x2="389.42" y2="1198.36" stroke-width="3.3"/>
<line x1="357.02" y1="1246.7" x2="389.42" y2="1246.7" stroke-width="3.3"/>
<line x1="379.53" y1="1184.17" x2="379.53" y2="1174.81" stroke-width="3.8" stroke-linecap="butt"/>
<line x1="379.53" y1="1215.77" x2="379.53" y2="1225.13" stroke-width="3.8" stroke-linecap="butt"/>
<line x1="363.33" y1="1174.81" x2="395.73" y2="1174.81" stroke-width="3.3"/>
<line x1="363.33" y1="1225.13" x2="395.73" y2="1225.13" stroke-width="3.3"/>
<line x1="385.84" y1="1161.24" x2="385.84" y2="1149.77" stroke-width="3.8" stroke-linecap="butt"/>
<line x1="385.84" y1="1192.84" x2="385.84" y2="1204.31" stroke-width="3.8" stroke-linecap="butt"/>
<line x1="369.64" y1="1149.77" x2="402.04" y2="1149.77" stroke-width="3.3"/>
<line x1="369.64" y1="1204.31" x2="402.04" y2="1204.31" stroke-width="3.3"/>
<line x1="392.14" y1="1137.19" x2="392.14" y2="1130.19" stroke-width="3.8" stroke-linecap="butt"/>
<line x1="392.14" y1="1168.79" x2="392.14" y2="1175.8" stroke-width="3.8" stroke-linecap="butt"/>
<line x1="375.94" y1="1130.19" x2="408.34" y2="1130.19" stroke-width="3.3"/>
<line x1="375.94" y1="1175.8" x2="408.34" y2="1175.8" stroke-width="3.3"/>
<line x1="398.45" y1="1116.12" x2="398.45" y2="1107.63" stroke-width="3.8" stroke-linecap="butt"/>
<line x1="398.45" y1="1147.72" x2="398.45" y2="1151.63" stroke-width="3.8" stroke-linecap="butt"/>
<line x1="382.25" y1="1107.63" x2="414.65" y2="1107.63" stroke-width="3.3"/>
<line x1="382.25" y1="1151.63" x2="414.65" y2="1151.63" stroke-width="3.3"/>
<line x1="436.31" y1="1073.98" x2="436.31" y2="1066.23" stroke-width="3.8" stroke-linecap="butt"/>
<line x1="436.31" y1="1105.58" x2="436.31" y2="1113.33" stroke-width="3.8" stroke-linecap="butt"/>
<line x1="420.11" y1="1066.23" x2="452.51" y2="1066.23" stroke-width="3.3"/>
<line x1="420.11" y1="1113.33" x2="452.51" y2="1113.33" stroke-width="3.3"/>
<line x1="474.16" y1="1039.03" x2="474.16" y2="1030.04" stroke-width="3.8" stroke-linecap="butt"/>
<line x1="474.16" y1="1070.63" x2="474.16" y2="1079.62" stroke-width="3.8" stroke-linecap="butt"/>
<line x1="457.96" y1="1030.04" x2="490.36" y2="1030.04" stroke-width="3.3"/>
<line x1="457.96" y1="1079.62" x2="490.36" y2="1079.62" stroke-width="3.3"/>
<line x1="512.01" y1="992.42" x2="512.01" y2="983.43" stroke-width="3.8" stroke-linecap="butt"/>
<line x1="512.01" y1="1024.02" x2="512.01" y2="1033.01" stroke-width="3.8" stroke-linecap="butt"/>
<line x1="495.81" y1="983.43" x2="528.21" y2="983.43" stroke-width="3.3"/>
<line x1="495.81" y1="1033.01" x2="528.21" y2="1033.01" stroke-width="3.3"/>
<line x1="587.72" y1="953" x2="587.72" y2="943.4" stroke-width="3.8" stroke-linecap="butt"/>
<line x1="587.72" y1="984.6" x2="587.72" y2="994.21" stroke-width="3.8" stroke-linecap="butt"/>
<line x1="571.52" y1="943.4" x2="603.92" y2="943.4" stroke-width="3.3"/>
<line x1="571.52" y1="994.21" x2="603.92" y2="994.21" stroke-width="3.3"/>
<line x1="663.42" y1="881.11" x2="663.42" y2="870.26" stroke-width="3.8" stroke-linecap="butt"/>
<line x1="663.42" y1="912.71" x2="663.42" y2="923.56" stroke-width="3.8" stroke-linecap="butt"/>
<line x1="647.22" y1="870.26" x2="679.62" y2="870.26" stroke-width="3.3"/>
<line x1="647.22" y1="923.56" x2="679.62" y2="923.56" stroke-width="3.3"/>
<line x1="739.13" y1="790.51" x2="739.13" y2="781.52" stroke-width="3.8" stroke-linecap="butt"/>
<line x1="739.13" y1="822.11" x2="739.13" y2="831.1" stroke-width="3.8" stroke-linecap="butt"/>
<line x1="722.93" y1="781.52" x2="755.33" y2="781.52" stroke-width="3.3"/>
<line x1="722.93" y1="831.1" x2="755.33" y2="831.1" stroke-width="3.3"/>
<line x1="890.54" y1="698.66" x2="890.54" y2="688.43" stroke-width="3.8" stroke-linecap="butt"/>
<line x1="890.54" y1="730.26" x2="890.54" y2="740.49" stroke-width="3.8" stroke-linecap="butt"/>
<line x1="874.34" y1="688.43" x2="906.74" y2="688.43" stroke-width="3.3"/>
<line x1="874.34" y1="740.49" x2="906.74" y2="740.49" stroke-width="3.3"/>
<line x1="1041.95" y1="574.96" x2="1041.95" y2="564.11" stroke-width="3.8" stroke-linecap="butt"/>
<line x1="1041.95" y1="606.56" x2="1041.95" y2="617.41" stroke-width="3.8" stroke-linecap="butt"/>
<line x1="1025.75" y1="564.11" x2="1058.15" y2="564.11" stroke-width="3.3"/>
<line x1="1025.75" y1="617.41" x2="1058.15" y2="617.41" stroke-width="3.3"/>
<line x1="1193.36" y1="481.38" x2="1193.36" y2="471.15" stroke-width="3.8" stroke-linecap="butt"/>
<line x1="1193.36" y1="512.98" x2="1193.36" y2="523.2" stroke-width="3.8" stroke-linecap="butt"/>
<line x1="1177.16" y1="471.15" x2="1209.56" y2="471.15" stroke-width="3.3"/>
<line x1="1177.16" y1="523.2" x2="1209.56" y2="523.2" stroke-width="3.3"/>
<line x1="1344.77" y1="420.64" x2="1344.77" y2="411.65" stroke-width="3.8" stroke-linecap="butt"/>
<line x1="1344.77" y1="452.24" x2="1344.77" y2="461.23" stroke-width="3.8" stroke-linecap="butt"/>
<line x1="1328.57" y1="411.65" x2="1360.97" y2="411.65" stroke-width="3.3"/>
<line x1="1328.57" y1="461.23" x2="1360.97" y2="461.23" stroke-width="3.3"/>
<line x1="1496.18" y1="361.76" x2="1496.18" y2="350.29" stroke-width="3.8" stroke-linecap="butt"/>
<line x1="1496.18" y1="393.36" x2="1496.18" y2="404.83" stroke-width="3.8" stroke-linecap="butt"/>
<line x1="1479.98" y1="350.29" x2="1512.38" y2="350.29" stroke-width="3.3"/>
<line x1="1479.98" y1="404.83" x2="1512.38" y2="404.83" stroke-width="3.3"/>
<line x1="1647.6" y1="294.46" x2="1647.6" y2="285.47" stroke-width="3.8" stroke-linecap="butt"/>
<line x1="1647.6" y1="326.06" x2="1647.6" y2="335.05" stroke-width="3.8" stroke-linecap="butt"/>
<line x1="1631.4" y1="285.47" x2="1663.8" y2="285.47" stroke-width="3.3"/>
<line x1="1631.4" y1="335.05" x2="1663.8" y2="335.05" stroke-width="3.3"/>
<line x1="1799.01" y1="244.26" x2="1799.01" y2="234.03" stroke-width="3.8" stroke-linecap="butt"/>
<line x1="1799.01" y1="275.86" x2="1799.01" y2="286.09" stroke-width="3.8" stroke-linecap="butt"/>
<line x1="1782.81" y1="234.03" x2="1815.21" y2="234.03" stroke-width="3.3"/>
<line x1="1782.81" y1="286.09" x2="1815.21" y2="286.09" stroke-width="3.3"/>
<line x1="1950.42" y1="172.37" x2="1950.42" y2="164.62" stroke-width="3.8" stroke-linecap="butt"/>
<line x1="1950.42" y1="203.97" x2="1950.42" y2="211.72" stroke-width="3.8" stroke-linecap="butt"/>
<line x1="1934.22" y1="164.62" x2="1966.62" y2="164.62" stroke-width="3.3"/>
<line x1="1934.22" y1="211.72" x2="1966.62" y2="211.72" stroke-width="3.3"/>
<line x1="2101.83" y1="127.5" x2="2101.83" y2="118.51" stroke-width="3.8" stroke-linecap="butt"/>
<line x1="2101.83" y1="159.1" x2="2101.83" y2="168.09" stroke-width="3.8" stroke-linecap="butt"/>
<line x1="2085.63" y1="118.51" x2="2118.03" y2="118.51" stroke-width="3.3"/>
<line x1="2085.63" y1="168.09" x2="2118.03" y2="168.09" stroke-width="3.3"/>
<line x1="2253.24" y1="104.57" x2="2253.24" y2="94.34" stroke-width="3.8" stroke-linecap="butt"/>
<line x1="2253.24" y1="136.17" x2="2253.24" y2="146.4" stroke-width="3.8" stroke-linecap="butt"/>
<line x1="2237.04" y1="94.34" x2="2269.44" y2="94.34" stroke-width="3.3"/>
<line x1="2237.04" y1="146.4" x2="2269.44" y2="146.4" stroke-width="3.3"/>
</g>
<g stroke="#00f" stroke-linecap="round">
<line x1="363.75" y1="1256.43" x2="363.75" y2="1256.12" stroke-width="3.8" stroke-linecap="butt"/>
<line x1="363.75" y1="1295.93" x2="363.75" y2="1300.74" stroke-width="3.8" stroke-linecap="butt"/>
<line x1="347.55" y1="1256.12" x2="379.95" y2="1256.12" stroke-width="3.3"/>
<line x1="347.55" y1="1300.74" x2="379.95" y2="1300.74" stroke-width="3.3"/>
<line x1="366.91" y1="1223.46" x2="366.91" y2="1221.91" stroke-width="3.8" stroke-linecap="butt"/>
<line x1="366.91" y1="1262.96" x2="366.91" y2="1269.01" stroke-width="3.8" stroke-linecap="butt"/>
<line x1="350.71" y1="1221.91" x2="383.11" y2="1221.91" stroke-width="3.3"/>
<line x1="350.71" y1="1269.01" x2="383.11" y2="1269.01" stroke-width="3.3"/>
<line x1="373.22" y1="1198.3" x2="373.22" y2="1197.99" stroke-width="3.8" stroke-linecap="butt"/>
<line x1="373.22" y1="1237.8" x2="373.22" y2="1242.61" stroke-width="3.8" stroke-linecap="butt"/>
<line x1="357.02" y1="1197.99" x2="389.42" y2="1197.99" stroke-width="3.3"/>
<line x1="357.02" y1="1242.61" x2="389.42" y2="1242.61" stroke-width="3.3"/>
<line x1="379.53" y1="1176.24" x2="379.53" y2="1172.83" stroke-width="3.8" stroke-linecap="butt"/>
<line x1="379.53" y1="1215.74" x2="379.53" y2="1223.65" stroke-width="3.8" stroke-linecap="butt"/>
<line x1="363.33" y1="1172.83" x2="395.73" y2="1172.83" stroke-width="3.3"/>
<line x1="363.33" y1="1223.65" x2="395.73" y2="1223.65" stroke-width="3.3"/>
<line x1="385.84" y1="1155.54" x2="385.84" y2="1151.51" stroke-width="3.8" stroke-linecap="butt"/>
<line x1="385.84" y1="1195.04" x2="385.84" y2="1203.57" stroke-width="3.8" stroke-linecap="butt"/>
<line x1="369.64" y1="1151.51" x2="402.04" y2="1151.51" stroke-width="3.3"/>
<line x1="369.64" y1="1203.57" x2="402.04" y2="1203.57" stroke-width="3.3"/>
<line x1="392.14" y1="1130.5" x2="392.14" y2="1129.32" stroke-width="3.8" stroke-linecap="butt"/>
<line x1="392.14" y1="1170" x2="392.14" y2="1175.68" stroke-width="3.8" stroke-linecap="butt"/>
<line x1="375.94" y1="1129.32" x2="408.34" y2="1129.32" stroke-width="3.3"/>
<line x1="375.94" y1="1175.68" x2="408.34" y2="1175.68" stroke-width="3.3"/>
<line x1="398.45" y1="1104.72" x2="398.45" y2="1101.93" stroke-width="3.8" stroke-linecap="butt"/>
<line x1="398.45" y1="1144.22" x2="398.45" y2="1151.51" stroke-width="3.8" stroke-linecap="butt"/>
<line x1="382.25" y1="1101.93" x2="414.65" y2="1101.93" stroke-width="3.3"/>
<line x1="382.25" y1="1151.51" x2="414.65" y2="1151.51" stroke-width="3.3"/>
<line x1="436.31" y1="1051.79" x2="436.31" y2="1049.62" stroke-width="3.8" stroke-linecap="butt"/>
<line x1="436.31" y1="1091.29" x2="436.31" y2="1097.96" stroke-width="3.8" stroke-linecap="butt"/>
<line x1="420.11" y1="1049.62" x2="452.51" y2="1049.62" stroke-width="3.3"/>
<line x1="420.11" y1="1097.96" x2="452.51" y2="1097.96" stroke-width="3.3"/>
<line x1="474.16" y1="1022.79" x2="474.16" y2="1020" stroke-width="3.8" stroke-linecap="butt"/>
<line x1="474.16" y1="1062.29" x2="474.16" y2="1069.58" stroke-width="3.8" stroke-linecap="butt"/>
<line x1="457.96" y1="1020" x2="490.36" y2="1020" stroke-width="3.3"/>
<line x1="457.96" y1="1069.58" x2="490.36" y2="1069.58" stroke-width="3.3"/>
<line x1="512.01" y1="964.16" x2="512.01" y2="961.37" stroke-width="3.8" stroke-linecap="butt"/>
<line x1="512.01" y1="1003.66" x2="512.01" y2="1010.95" stroke-width="3.8" stroke-linecap="butt"/>
<line x1="495.81" y1="961.37" x2="528.21" y2="961.37" stroke-width="3.3"/>
<line x1="495.81" y1="1010.95" x2="528.21" y2="1010.95" stroke-width="3.3"/>
<line x1="587.72" y1="882.35" x2="587.72" y2="879.56" stroke-width="3.8" stroke-linecap="butt"/>
<line x1="587.72" y1="921.85" x2="587.72" y2="929.14" stroke-width="3.8" stroke-linecap="butt"/>
<line x1="571.52" y1="879.56" x2="603.92" y2="879.56" stroke-width="3.3"/>
<line x1="571.52" y1="929.14" x2="603.92" y2="929.14" stroke-width="3.3"/>
<line x1="663.42" y1="796.08" x2="663.42" y2="790.81" stroke-width="3.8" stroke-linecap="butt"/>
<line x1="663.42" y1="835.58" x2="663.42" y2="845.35" stroke-width="3.8" stroke-linecap="butt"/>
<line x1="647.22" y1="790.81" x2="679.62" y2="790.81" stroke-width="3.3"/>
<line x1="647.22" y1="845.35" x2="679.62" y2="845.35" stroke-width="3.3"/>
<line x1="739.13" y1="694.32" x2="739.13" y2="691.53" stroke-width="3.8" stroke-linecap="butt"/>
<line x1="739.13" y1="733.82" x2="739.13" y2="741.11" stroke-width="3.8" stroke-linecap="butt"/>
<line x1="722.93" y1="691.53" x2="755.33" y2="691.53" stroke-width="3.3"/>
<line x1="722.93" y1="741.11" x2="755.33" y2="741.11" stroke-width="3.3"/>
<line x1="890.54" y1="591.07" x2="890.54" y2="587.04" stroke-width="3.8" stroke-linecap="butt"/>
<line x1="890.54" y1="630.57" x2="890.54" y2="639.1" stroke-width="3.8" stroke-linecap="butt"/>
<line x1="874.34" y1="587.04" x2="906.74" y2="587.04" stroke-width="3.3"/>
<line x1="874.34" y1="639.1" x2="906.74" y2="639.1" stroke-width="3.3"/>
<line x1="1041.95" y1="489.18" x2="1041.95" y2="482.05" stroke-width="3.8" stroke-linecap="butt"/>
<line x1="1041.95" y1="528.68" x2="1041.95" y2="540.31" stroke-width="3.8" stroke-linecap="butt"/>
<line x1="1025.75" y1="482.05" x2="1058.15" y2="482.05" stroke-width="3.3"/>
<line x1="1025.75" y1="540.31" x2="1058.15" y2="540.31" stroke-width="3.3"/>
<line x1="1193.36" y1="389.03" x2="1193.36" y2="385" stroke-width="3.8" stroke-linecap="butt"/>
<line x1="1193.36" y1="428.53" x2="1193.36" y2="437.06" stroke-width="3.8" stroke-linecap="butt"/>
<line x1="1177.16" y1="385" x2="1209.56" y2="385" stroke-width="3.3"/>
<line x1="1177.16" y1="437.06" x2="1209.56" y2="437.06" stroke-width="3.3"/>
<line x1="1344.77" y1="327.05" x2="1344.77" y2="320.55" stroke-width="3.8" stroke-linecap="butt"/>
<line x1="1344.77" y1="366.55" x2="1344.77" y2="377.56" stroke-width="3.8" stroke-linecap="butt"/>
<line x1="1328.57" y1="320.55" x2="1360.97" y2="320.55" stroke-width="3.3"/>
<line x1="1328.57" y1="377.56" x2="1360.97" y2="377.56" stroke-width="3.3"/>
<line x1="1496.18" y1="266.32" x2="1496.18" y2="261.05" stroke-width="3.8" stroke-linecap="butt"/>
<line x1="1496.18" y1="305.82" x2="1496.18" y2="315.59" stroke-width="3.8" stroke-linecap="butt"/>
<line x1="1479.98" y1="261.05" x2="1512.38" y2="261.05" stroke-width="3.3"/>
<line x1="1479.98" y1="315.59" x2="1512.38" y2="315.59" stroke-width="3.3"/>
<line x1="1647.6" y1="200.63" x2="1647.6" y2="198.46" stroke-width="3.8" stroke-linecap="butt"/>
<line x1="1647.6" y1="240.13" x2="1647.6" y2="246.8" stroke-width="3.8" stroke-linecap="butt"/>
<line x1="1631.4" y1="198.46" x2="1663.8" y2="198.46" stroke-width="3.3"/>
<line x1="1631.4" y1="246.8" x2="1663.8" y2="246.8" stroke-width="3.3"/>
<line x1="1799.01" y1="159.72" x2="1799.01" y2="155.69" stroke-width="3.8" stroke-linecap="butt"/>
<line x1="1799.01" y1="199.22" x2="1799.01" y2="207.75" stroke-width="3.8" stroke-linecap="butt"/>
<line x1="1782.81" y1="155.69" x2="1815.21" y2="155.69" stroke-width="3.3"/>
<line x1="1782.81" y1="207.75" x2="1815.21" y2="207.75" stroke-width="3.3"/>
<line x1="1950.42" y1="135.43" x2="1950.42" y2="127.06" stroke-width="3.8" stroke-linecap="butt"/>
<line x1="1950.42" y1="174.93" x2="1950.42" y2="187.8" stroke-width="3.8" stroke-linecap="butt"/>
<line x1="1934.22" y1="127.06" x2="1966.62" y2="127.06" stroke-width="3.3"/>
<line x1="1934.22" y1="187.8" x2="1966.62" y2="187.8" stroke-width="3.3"/>
<line x1="2101.83" y1="115.1" x2="2101.83" y2="112.31" stroke-width="3.8" stroke-linecap="butt"/>
<line x1="2101.83" y1="154.6" x2="2101.83" y2="161.89" stroke-width="3.8" stroke-linecap="butt"/>
<line x1="2085.63" y1="112.31" x2="2118.03" y2="112.31" stroke-width="3.3"/>
<line x1="2085.63" y1="161.89" x2="2118.03" y2="161.89" stroke-width="3.3"/>
<line x1="2253.24" y1="96.76" x2="2253.24" y2="95.21" stroke-width="3.8" stroke-linecap="butt"/>
<line x1="2253.24" y1="136.26" x2="2253.24" y2="142.31" stroke-width="3.8" stroke-linecap="butt"/>
<line x1="2237.04" y1="95.21" x2="2269.44" y2="95.21" stroke-width="3.3"/>
<line x1="2237.04" y1="142.31" x2="2269.44" y2="142.31" stroke-width="3.3"/>
</g>
<rect x="557.8" y="1071.6" width="745.2" height="373.6" fill="none" stroke="#000" stroke-width="2.8"/>
<rect x="667.9" y="1119.5" width="32.8" height="28" fill="none" stroke="#000" stroke-width="3.4"/>
<ellipse cx="684.3" cy="1216.6" rx="19.8" ry="17" fill="#f00"/>
<rect x="665.9" y="1283.8" width="36.8" height="32.4" rx="1.5" fill="#000"/>
<polygon points="684.3,1363.11 690.57,1377.25 706.25,1377.25 706.25,1380.59 694.49,1386.92 698.41,1395.66 698.41,1399.94 694.88,1399.94 684.3,1393.43 673.72,1399.94 670.19,1399.94 670.19,1395.66 674.11,1386.92 662.35,1380.59 662.35,1377.25 678.03,1377.25" fill="#0000ff"/>
<g font-size="70.5" fill="#000">
<text transform="translate(792.5,1156.9) scale(1.092,1)">0.0125M Indo</text>
<text transform="translate(792.5,1239.93) scale(1.092,1)">0.0175M Indo</text>
<text transform="translate(792.5,1322.96) scale(1.092,1)">0.025M Indo</text>
<text transform="translate(792.5,1405.99) scale(1.092,1)">0.05M Indo</text>
</g>
<g stroke="#000" stroke-linecap="round">
<line x1="1414.9" y1="1153" x2="1425" y2="1153" stroke-width="4.4"/>
<line x1="1414.9" y1="1059.5" x2="1425" y2="1059.5" stroke-width="4.4"/>
<line x1="1414.9" y1="966" x2="1425" y2="966" stroke-width="4.4"/>
<line x1="1414.9" y1="872.5" x2="1425" y2="872.5" stroke-width="4.4"/>
<line x1="1414.9" y1="779" x2="1425" y2="779" stroke-width="4.4"/>
<line x1="1414.9" y1="685.5" x2="1425" y2="685.5" stroke-width="4.4"/>
<line x1="1414.9" y1="592" x2="1425" y2="592" stroke-width="4.4"/>
<line x1="1422.2" y1="1106.25" x2="1425" y2="1106.25" stroke-width="4.4"/>
<line x1="1422.2" y1="1012.75" x2="1425" y2="1012.75" stroke-width="4.4"/>
<line x1="1422.2" y1="919.25" x2="1425" y2="919.25" stroke-width="4.4"/>
<line x1="1422.2" y1="825.75" x2="1425" y2="825.75" stroke-width="4.4"/>
<line x1="1422.2" y1="732.25" x2="1425" y2="732.25" stroke-width="4.4"/>
<line x1="1422.2" y1="638.75" x2="1425" y2="638.75" stroke-width="4.4"/>
<line x1="1427.2" y1="1155.2" x2="1427.2" y2="1163.8" stroke-width="4.4"/>
<line x1="1564.42" y1="1155.2" x2="1564.42" y2="1163.8" stroke-width="4.4"/>
<line x1="1701.64" y1="1155.2" x2="1701.64" y2="1163.8" stroke-width="4.4"/>
<line x1="1838.86" y1="1155.2" x2="1838.86" y2="1163.8" stroke-width="4.4"/>
<line x1="1976.08" y1="1155.2" x2="1976.08" y2="1163.8" stroke-width="4.4"/>
<line x1="2113.3" y1="1155.2" x2="2113.3" y2="1163.8" stroke-width="4.4"/>
<line x1="2250.5" y1="1155.2" x2="2250.5" y2="1163.8" stroke-width="4.4"/>
<line x1="1495.81" y1="1155.2" x2="1495.81" y2="1157.8" stroke-width="4.4"/>
<line x1="1633.03" y1="1155.2" x2="1633.03" y2="1157.8" stroke-width="4.4"/>
<line x1="1770.25" y1="1155.2" x2="1770.25" y2="1157.8" stroke-width="4.4"/>
<line x1="1907.47" y1="1155.2" x2="1907.47" y2="1157.8" stroke-width="4.4"/>
<line x1="2044.69" y1="1155.2" x2="2044.69" y2="1157.8" stroke-width="4.4"/>
<line x1="2181.91" y1="1155.2" x2="2181.91" y2="1157.8" stroke-width="4.4"/>
</g>
<rect x="1427.2" y="592" width="823.3" height="561" fill="none" stroke="#000" stroke-width="4.4"/>
<g font-weight="bold" font-size="45.5" text-anchor="end" fill="#000">
<text transform="translate(1407,1163.4) scale(1.05,1)">0</text>
<text transform="translate(1407,1069.9) scale(1.05,1)">5</text>
<text transform="translate(1407,976.4) scale(1.05,1)">10</text>
<text transform="translate(1407,882.9) scale(1.05,1)">15</text>
<text transform="translate(1407,789.4) scale(1.05,1)">20</text>
<text transform="translate(1407,695.9) scale(1.05,1)">25</text>
<text transform="translate(1407,602.4) scale(1.05,1)">30</text>
</g>
<g font-weight="bold" font-size="45.5" text-anchor="middle" fill="#000">
<text transform="translate(1428.7,1203.7) scale(1.05,1)">0</text>
<text transform="translate(1565.92,1203.7) scale(1.05,1)">10</text>
<text transform="translate(1703.14,1203.7) scale(1.05,1)">20</text>
<text transform="translate(1840.36,1203.7) scale(1.05,1)">30</text>
<text transform="translate(1977.58,1203.7) scale(1.05,1)">40</text>
<text transform="translate(2114.8,1203.7) scale(1.05,1)">50</text>
<text transform="translate(2252.02,1203.7) scale(1.05,1)">60</text>
</g>
<text transform="translate(1725,1293.1) scale(1.14,1)" font-weight="bold" font-size="57.7">time / h</text>
<text transform="translate(1313.1,965.5) rotate(-90) scale(1.06,1)" font-weight="bold" font-size="61.9">%<tspan dx="9.43">R</tspan></text>
<rect x="1434.02" y="1014.24" width="13.8" height="11.6" fill="none" stroke="#000" stroke-width="1.9"/>
<rect x="1447.74" y="1000.97" width="13.8" height="11.6" fill="none" stroke="#000" stroke-width="1.9"/>
<rect x="1475.19" y="976.47" width="13.8" height="11.6" fill="none" stroke="#000" stroke-width="1.9"/>
<rect x="1502.63" y="934.21" width="13.8" height="11.6" fill="none" stroke="#000" stroke-width="1.9"/>
<rect x="1530.08" y="918.12" width="13.8" height="11.6" fill="none" stroke="#000" stroke-width="1.9"/>
<rect x="1557.52" y="879.79" width="13.8" height="11.6" fill="none" stroke="#000" stroke-width="1.9"/>
<rect x="1584.96" y="850.06" width="13.8" height="11.6" fill="none" stroke="#000" stroke-width="1.9"/>
<rect x="1749.63" y="767.59" width="13.8" height="11.6" fill="none" stroke="#000" stroke-width="1.9"/>
<rect x="1914.29" y="738.61" width="13.8" height="11.6" fill="none" stroke="#000" stroke-width="1.9"/>
<rect x="2078.96" y="679.89" width="13.8" height="11.6" fill="none" stroke="#000" stroke-width="1.9"/>
<g stroke="#000">
<line x1="1440.92" y1="987.32" x2="1440.92" y2="1052.77" stroke-width="1.9"/>
<line x1="1433.92" y1="987.32" x2="1447.92" y2="987.32" stroke-width="2"/>
<line x1="1433.92" y1="1052.77" x2="1447.92" y2="1052.77" stroke-width="2"/>
<line x1="1454.64" y1="970.3" x2="1454.64" y2="1043.23" stroke-width="1.9"/>
<line x1="1447.64" y1="970.3" x2="1461.64" y2="970.3" stroke-width="2"/>
<line x1="1447.64" y1="1043.23" x2="1461.64" y2="1043.23" stroke-width="2"/>
<line x1="1482.09" y1="947.67" x2="1482.09" y2="1016.86" stroke-width="1.9"/>
<line x1="1475.09" y1="947.67" x2="1489.09" y2="947.67" stroke-width="2"/>
<line x1="1475.09" y1="1016.86" x2="1489.09" y2="1016.86" stroke-width="2"/>
<line x1="1509.53" y1="901.67" x2="1509.53" y2="978.34" stroke-width="1.9"/>
<line x1="1502.53" y1="901.67" x2="1516.53" y2="901.67" stroke-width="2"/>
<line x1="1502.53" y1="978.34" x2="1516.53" y2="978.34" stroke-width="2"/>
<line x1="1536.98" y1="883.53" x2="1536.98" y2="964.32" stroke-width="1.9"/>
<line x1="1529.98" y1="883.53" x2="1543.98" y2="883.53" stroke-width="2"/>
<line x1="1529.98" y1="964.32" x2="1543.98" y2="964.32" stroke-width="2"/>
<line x1="1564.42" y1="849.69" x2="1564.42" y2="921.49" stroke-width="1.9"/>
<line x1="1557.42" y1="849.69" x2="1571.42" y2="849.69" stroke-width="2"/>
<line x1="1557.42" y1="921.49" x2="1571.42" y2="921.49" stroke-width="2"/>
<line x1="1591.86" y1="818.46" x2="1591.86" y2="893.26" stroke-width="1.9"/>
<line x1="1584.86" y1="818.46" x2="1598.86" y2="818.46" stroke-width="2"/>
<line x1="1584.86" y1="893.26" x2="1598.86" y2="893.26" stroke-width="2"/>
<line x1="1756.53" y1="737.86" x2="1756.53" y2="808.92" stroke-width="1.9"/>
<line x1="1749.53" y1="737.86" x2="1763.53" y2="737.86" stroke-width="2"/>
<line x1="1749.53" y1="808.92" x2="1763.53" y2="808.92" stroke-width="2"/>
<line x1="1921.19" y1="705.88" x2="1921.19" y2="782.93" stroke-width="1.9"/>
<line x1="1914.19" y1="705.88" x2="1928.19" y2="705.88" stroke-width="2"/>
<line x1="1914.19" y1="782.93" x2="1928.19" y2="782.93" stroke-width="2"/>
<line x1="2085.86" y1="648.29" x2="2085.86" y2="723.09" stroke-width="1.9"/>
<line x1="2078.86" y1="648.29" x2="2092.86" y2="648.29" stroke-width="2"/>
<line x1="2078.86" y1="723.09" x2="2092.86" y2="723.09" stroke-width="2"/>
</g>
<rect x="1433.12" y="1073.43" width="15.6" height="14.4" fill="#000"/>
<rect x="1446.84" y="982.92" width="15.6" height="14.4" fill="#000"/>
<rect x="1474.29" y="948.89" width="15.6" height="14.4" fill="#000"/>
<rect x="1501.73" y="914.86" width="15.6" height="14.4" fill="#000"/>
<rect x="1529.18" y="880.26" width="15.6" height="14.4" fill="#000"/>
<rect x="1556.62" y="843.98" width="15.6" height="14.4" fill="#000"/>
<rect x="1584.06" y="812.19" width="15.6" height="14.4" fill="#000"/>
<rect x="1748.73" y="748.61" width="15.6" height="14.4" fill="#000"/>
<rect x="1913.39" y="695.88" width="15.6" height="14.4" fill="#000"/>
<rect x="2078.06" y="625.57" width="15.6" height="14.4" fill="#000"/>
<g stroke="#000">
<line x1="1440.92" y1="1049.22" x2="1440.92" y2="1112.05" stroke-width="1.9"/>
<line x1="1433.92" y1="1049.22" x2="1447.92" y2="1049.22" stroke-width="2"/>
<line x1="1433.92" y1="1112.05" x2="1447.92" y2="1112.05" stroke-width="2"/>
<line x1="1454.64" y1="952.72" x2="1454.64" y2="1027.52" stroke-width="1.9"/>
<line x1="1447.64" y1="952.72" x2="1461.64" y2="952.72" stroke-width="2"/>
<line x1="1447.64" y1="1027.52" x2="1461.64" y2="1027.52" stroke-width="2"/>
<line x1="1482.09" y1="919.62" x2="1482.09" y2="992.55" stroke-width="1.9"/>
<line x1="1475.09" y1="919.62" x2="1489.09" y2="919.62" stroke-width="2"/>
<line x1="1475.09" y1="992.55" x2="1489.09" y2="992.55" stroke-width="2"/>
<line x1="1509.53" y1="884.09" x2="1509.53" y2="960.02" stroke-width="1.9"/>
<line x1="1502.53" y1="884.09" x2="1516.53" y2="884.09" stroke-width="2"/>
<line x1="1502.53" y1="960.02" x2="1516.53" y2="960.02" stroke-width="2"/>
<line x1="1536.98" y1="846.32" x2="1536.98" y2="928.6" stroke-width="1.9"/>
<line x1="1529.98" y1="846.32" x2="1543.98" y2="846.32" stroke-width="2"/>
<line x1="1529.98" y1="928.6" x2="1543.98" y2="928.6" stroke-width="2"/>
<line x1="1564.42" y1="816.77" x2="1564.42" y2="885.59" stroke-width="1.9"/>
<line x1="1557.42" y1="816.77" x2="1571.42" y2="816.77" stroke-width="2"/>
<line x1="1557.42" y1="885.59" x2="1571.42" y2="885.59" stroke-width="2"/>
<line x1="1591.86" y1="782.74" x2="1591.86" y2="849.12" stroke-width="1.9"/>
<line x1="1584.86" y1="782.74" x2="1598.86" y2="782.74" stroke-width="2"/>
<line x1="1584.86" y1="849.12" x2="1598.86" y2="849.12" stroke-width="2"/>
<line x1="1756.53" y1="720.28" x2="1756.53" y2="791.34" stroke-width="1.9"/>
<line x1="1749.53" y1="720.28" x2="1763.53" y2="720.28" stroke-width="2"/>
<line x1="1749.53" y1="791.34" x2="1763.53" y2="791.34" stroke-width="2"/>
<line x1="1921.19" y1="665.68" x2="1921.19" y2="740.48" stroke-width="1.9"/>
<line x1="1914.19" y1="665.68" x2="1928.19" y2="665.68" stroke-width="2"/>
<line x1="1914.19" y1="740.48" x2="1928.19" y2="740.48" stroke-width="2"/>
<line x1="2085.86" y1="595.37" x2="2085.86" y2="670.17" stroke-width="1.9"/>
<line x1="2078.86" y1="595.37" x2="2092.86" y2="595.37" stroke-width="2"/>
<line x1="2078.86" y1="670.17" x2="2092.86" y2="670.17" stroke-width="2"/>
</g>
<ellipse cx="1440.92" cy="1090.73" rx="8.8" ry="7.3" fill="#f00"/>
<ellipse cx="1454.64" cy="1011.82" rx="8.8" ry="7.3" fill="#f00"/>
<ellipse cx="1482.09" cy="969.18" rx="8.8" ry="7.3" fill="#f00"/>
<ellipse cx="1509.53" cy="918.69" rx="8.8" ry="7.3" fill="#f00"/>
<ellipse cx="1536.98" cy="877.36" rx="8.8" ry="7.3" fill="#f00"/>
<ellipse cx="1564.42" cy="857.54" rx="8.8" ry="7.3" fill="#f00"/>
<ellipse cx="1591.86" cy="841.08" rx="8.8" ry="7.3" fill="#f00"/>
<ellipse cx="1756.53" cy="776.94" rx="8.8" ry="7.3" fill="#f00"/>
<ellipse cx="1921.19" cy="741.23" rx="8.8" ry="7.3" fill="#f00"/>
<ellipse cx="2085.86" cy="677.27" rx="8.8" ry="7.3" fill="#f00"/>
<g stroke="#f00">
<line x1="1440.92" y1="1058.57" x2="1440.92" y2="1122.89" stroke-width="1.9"/>
<line x1="1433.92" y1="1058.57" x2="1447.92" y2="1058.57" stroke-width="2"/>
<line x1="1433.92" y1="1122.89" x2="1447.92" y2="1122.89" stroke-width="2"/>
<line x1="1454.64" y1="975.35" x2="1454.64" y2="1048.28" stroke-width="1.9"/>
<line x1="1447.64" y1="975.35" x2="1461.64" y2="975.35" stroke-width="2"/>
<line x1="1447.64" y1="1048.28" x2="1461.64" y2="1048.28" stroke-width="2"/>
<line x1="1482.09" y1="935.52" x2="1482.09" y2="1002.84" stroke-width="1.9"/>
<line x1="1475.09" y1="935.52" x2="1489.09" y2="935.52" stroke-width="2"/>
<line x1="1475.09" y1="1002.84" x2="1489.09" y2="1002.84" stroke-width="2"/>
<line x1="1509.53" y1="880.35" x2="1509.53" y2="957.02" stroke-width="1.9"/>
<line x1="1502.53" y1="880.35" x2="1516.53" y2="880.35" stroke-width="2"/>
<line x1="1502.53" y1="957.02" x2="1516.53" y2="957.02" stroke-width="2"/>
<line x1="1536.98" y1="839.03" x2="1536.98" y2="915.7" stroke-width="1.9"/>
<line x1="1529.98" y1="839.03" x2="1543.98" y2="839.03" stroke-width="2"/>
<line x1="1529.98" y1="915.7" x2="1543.98" y2="915.7" stroke-width="2"/>
<line x1="1564.42" y1="822.01" x2="1564.42" y2="893.07" stroke-width="1.9"/>
<line x1="1557.42" y1="822.01" x2="1571.42" y2="822.01" stroke-width="2"/>
<line x1="1557.42" y1="893.07" x2="1571.42" y2="893.07" stroke-width="2"/>
<line x1="1591.86" y1="803.68" x2="1591.86" y2="878.48" stroke-width="1.9"/>
<line x1="1584.86" y1="803.68" x2="1598.86" y2="803.68" stroke-width="2"/>
<line x1="1584.86" y1="878.48" x2="1598.86" y2="878.48" stroke-width="2"/>
<line x1="1756.53" y1="741.23" x2="1756.53" y2="812.66" stroke-width="1.9"/>
<line x1="1749.53" y1="741.23" x2="1763.53" y2="741.23" stroke-width="2"/>
<line x1="1749.53" y1="812.66" x2="1763.53" y2="812.66" stroke-width="2"/>
<line x1="1921.19" y1="703.83" x2="1921.19" y2="778.63" stroke-width="1.9"/>
<line x1="1914.19" y1="703.83" x2="1928.19" y2="703.83" stroke-width="2"/>
<line x1="1914.19" y1="778.63" x2="1928.19" y2="778.63" stroke-width="2"/>
<line x1="2085.86" y1="639.87" x2="2085.86" y2="714.67" stroke-width="1.9"/>
<line x1="2078.86" y1="639.87" x2="2092.86" y2="639.87" stroke-width="2"/>
<line x1="2078.86" y1="714.67" x2="2092.86" y2="714.67" stroke-width="2"/>
</g>
<polygon points="1440.92,1030.31 1443.74,1036.99 1450.78,1036.99 1450.78,1038.58 1445.5,1041.57 1447.26,1045.71 1447.26,1047.73 1445.67,1047.73 1440.92,1044.65 1436.17,1047.73 1434.59,1047.73 1434.59,1045.71 1436.35,1041.57 1431.07,1038.58 1431.07,1036.99 1438.11,1036.99" fill="#0000ff"/>
<polygon points="1454.64,980.56 1457.46,987.25 1464.5,987.25 1464.5,988.84 1459.22,991.83 1460.98,995.96 1460.98,997.99 1459.4,997.99 1454.64,994.91 1449.89,997.99 1448.31,997.99 1448.31,995.96 1450.07,991.83 1444.79,988.84 1444.79,987.25 1451.83,987.25" fill="#0000ff"/>
<polygon points="1482.09,942.6 1484.9,949.29 1491.94,949.29 1491.94,950.88 1486.66,953.87 1488.42,958 1488.42,960.03 1486.84,960.03 1482.09,956.95 1477.34,960.03 1475.75,960.03 1475.75,958 1477.51,953.87 1472.23,950.88 1472.23,949.29 1479.27,949.29" fill="#0000ff"/>
<polygon points="1509.53,909.32 1512.35,916 1519.39,916 1519.39,917.59 1514.11,920.58 1515.87,924.72 1515.87,926.74 1514.28,926.74 1509.53,923.66 1504.78,926.74 1503.2,926.74 1503.2,924.72 1504.96,920.58 1499.68,917.59 1499.68,916 1506.72,916" fill="#0000ff"/>
<polygon points="1536.98,878.09 1539.79,884.78 1546.83,884.78 1546.83,886.36 1541.55,889.35 1543.31,893.49 1543.31,895.51 1541.73,895.51 1536.98,892.43 1532.22,895.51 1530.64,895.51 1530.64,893.49 1532.4,889.35 1527.12,886.36 1527.12,884.78 1534.16,884.78" fill="#0000ff"/>
<polygon points="1564.42,840.31 1567.24,847 1574.28,847 1574.28,848.59 1569,851.58 1570.76,855.71 1570.76,857.74 1569.17,857.74 1564.42,854.66 1559.67,857.74 1558.08,857.74 1558.08,855.71 1559.84,851.58 1554.56,848.59 1554.56,847 1561.6,847" fill="#0000ff"/>
<polygon points="1591.86,801.42 1594.68,808.11 1601.72,808.11 1601.72,809.69 1596.44,812.68 1598.2,816.82 1598.2,818.84 1596.62,818.84 1591.86,815.76 1587.11,818.84 1585.53,818.84 1585.53,816.82 1587.29,812.68 1582.01,809.69 1582.01,808.11 1589.05,808.11" fill="#0000ff"/>
<polygon points="1756.53,721.57 1759.34,728.26 1766.38,728.26 1766.38,729.84 1761.1,732.83 1762.86,736.97 1762.86,738.99 1761.28,738.99 1756.53,735.91 1751.78,738.99 1750.19,738.99 1750.19,736.97 1751.95,732.83 1746.67,729.84 1746.67,728.26 1753.71,728.26" fill="#0000ff"/>
<polygon points="1921.19,677.81 1924.01,684.5 1931.05,684.5 1931.05,686.08 1925.77,689.08 1927.53,693.21 1927.53,695.24 1925.94,695.24 1921.19,692.16 1916.44,695.24 1914.86,695.24 1914.86,693.21 1916.62,689.08 1911.34,686.08 1911.34,684.5 1918.38,684.5" fill="#0000ff"/>
<polygon points="2085.86,589.36 2088.67,596.05 2095.71,596.05 2095.71,597.63 2090.43,600.62 2092.19,604.76 2092.19,606.78 2090.61,606.78 2085.86,603.7 2081.1,606.78 2079.52,606.78 2079.52,604.76 2081.28,600.62 2076,597.63 2076,596.05 2083.04,596.05" fill="#0000ff"/>
<g stroke="#00f">
<line x1="1440.92" y1="1006.77" x2="1440.92" y2="1074.09" stroke-width="1.9"/>
<line x1="1433.92" y1="1006.77" x2="1447.92" y2="1006.77" stroke-width="2"/>
<line x1="1433.92" y1="1074.09" x2="1447.92" y2="1074.09" stroke-width="2"/>
<line x1="1454.64" y1="955.15" x2="1454.64" y2="1026.21" stroke-width="1.9"/>
<line x1="1447.64" y1="955.15" x2="1461.64" y2="955.15" stroke-width="2"/>
<line x1="1447.64" y1="1026.21" x2="1461.64" y2="1026.21" stroke-width="2"/>
<line x1="1482.09" y1="919.06" x2="1482.09" y2="986.38" stroke-width="1.9"/>
<line x1="1475.09" y1="919.06" x2="1489.09" y2="919.06" stroke-width="2"/>
<line x1="1475.09" y1="986.38" x2="1489.09" y2="986.38" stroke-width="2"/>
<line x1="1509.53" y1="881.1" x2="1509.53" y2="957.77" stroke-width="1.9"/>
<line x1="1502.53" y1="881.1" x2="1516.53" y2="881.1" stroke-width="2"/>
<line x1="1502.53" y1="957.77" x2="1516.53" y2="957.77" stroke-width="2"/>
<line x1="1536.98" y1="848.94" x2="1536.98" y2="927.48" stroke-width="1.9"/>
<line x1="1529.98" y1="848.94" x2="1543.98" y2="848.94" stroke-width="2"/>
<line x1="1529.98" y1="927.48" x2="1543.98" y2="927.48" stroke-width="2"/>
<line x1="1564.42" y1="815.46" x2="1564.42" y2="885.4" stroke-width="1.9"/>
<line x1="1557.42" y1="815.46" x2="1571.42" y2="815.46" stroke-width="2"/>
<line x1="1557.42" y1="885.4" x2="1571.42" y2="885.4" stroke-width="2"/>
<line x1="1591.86" y1="774.14" x2="1591.86" y2="848.94" stroke-width="1.9"/>
<line x1="1584.86" y1="774.14" x2="1598.86" y2="774.14" stroke-width="2"/>
<line x1="1584.86" y1="848.94" x2="1598.86" y2="848.94" stroke-width="2"/>
<line x1="1756.53" y1="695.22" x2="1756.53" y2="768.15" stroke-width="1.9"/>
<line x1="1749.53" y1="695.22" x2="1763.53" y2="695.22" stroke-width="2"/>
<line x1="1749.53" y1="768.15" x2="1763.53" y2="768.15" stroke-width="2"/>
<line x1="1921.19" y1="650.53" x2="1921.19" y2="725.33" stroke-width="1.9"/>
<line x1="1914.19" y1="650.53" x2="1928.19" y2="650.53" stroke-width="2"/>
<line x1="1914.19" y1="725.33" x2="1928.19" y2="725.33" stroke-width="2"/>
<line x1="2085.86" y1="592" x2="2085.86" y2="636.88" stroke-width="1.9"/>
<line x1="2078.86" y1="636.88" x2="2092.86" y2="636.88" stroke-width="2"/>
</g>
</svg></body></html>
